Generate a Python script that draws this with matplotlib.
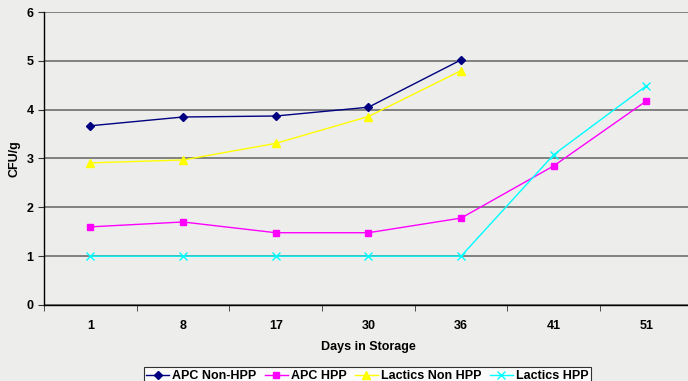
import matplotlib
matplotlib.use("Agg")
import matplotlib.pyplot as plt
import numpy as np

# data
days = ["1", "8", "17", "30", "36", "41", "51"]
apc_non_hpp = [3.67, 3.85, 3.87, 4.05, 5.02]
apc_hpp = [1.6, 1.7, 1.48, 1.48, 1.78, 2.85, 4.18]
lactics_non_hpp = [2.91, 2.97, 3.31, 3.86, 4.8]
lactics_hpp = [1.0, 1.0, 1.0, 1.0, 1.0, 3.08, 4.49]

plt.rcParams['font.family'] = ['Liberation Sans', 'DejaVu Sans']
plt.rcParams['font.weight'] = 'bold'
bg = '#edeeec'

fig = plt.figure(figsize=(6.88, 3.81), dpi=100, facecolor=bg)
ax = fig.add_axes([0.064, 0.1995, 0.943, 0.769], facecolor=bg)

x = np.arange(len(days))
ax.plot(x[:len(apc_non_hpp)], apc_non_hpp, color='#000080', marker='D', markersize=4,
        linewidth=1, label='APC Non-HPP')
ax.plot(x, apc_hpp, color='#ff00ff', marker='s', markersize=5,
        linewidth=1, label='APC HPP')
ax.plot(x[:len(lactics_non_hpp)], lactics_non_hpp, color='#ffff00', marker='^', markersize=6,
        linewidth=1, label='Lactics Non HPP')
ax.plot(x, lactics_hpp, color='#00ffff', marker='x', markersize=6, markeredgewidth=1,
        linewidth=1, label='Lactics HPP')

ax.set_xlim(-0.5, len(days) - 0.5)
ax.set_ylim(0, 6)
ax.set_yticks(range(0, 7))
ax.set_xticks(x)
ax.set_xticklabels(days)
ax.set_xticks(np.arange(-0.5, len(days)), minor=True)
ax.tick_params(axis='x', which='major', length=0, pad=11, labelsize=9)
ax.tick_params(axis='x', which='minor', length=4, direction='out', color='#333333')
ax.tick_params(axis='y', length=4, direction='out', labelsize=9, color='#333333')

ax.yaxis.grid(True, color='#6e6e6e', linewidth=1.2)
ax.set_axisbelow(True)
for s in ['top', 'right']:
    ax.spines[s].set_visible(False)
for s in ['left', 'bottom']:
    ax.spines[s].set_color('black')
    ax.spines[s].set_linewidth(1)

ax.set_xlabel('Days in Storage', fontsize=9, fontweight='bold', labelpad=6)
ax.set_ylabel('CFU/g', fontsize=9, fontweight='bold')
ax.yaxis.set_label_coords(-0.036, 0.5)

leg = fig.legend(loc='upper center', bbox_to_anchor=(0.534, 0.052), ncol=4,
                 frameon=True, fancybox=False, fontsize=9, handlelength=1.8,
                 handletextpad=0.25, columnspacing=0.7, borderpad=0.2)
leg.get_frame().set_edgecolor('black')
leg.get_frame().set_facecolor('white')
leg.get_frame().set_linewidth(0.8)

fig.savefig('out.png', dpi=100, facecolor=bg)
